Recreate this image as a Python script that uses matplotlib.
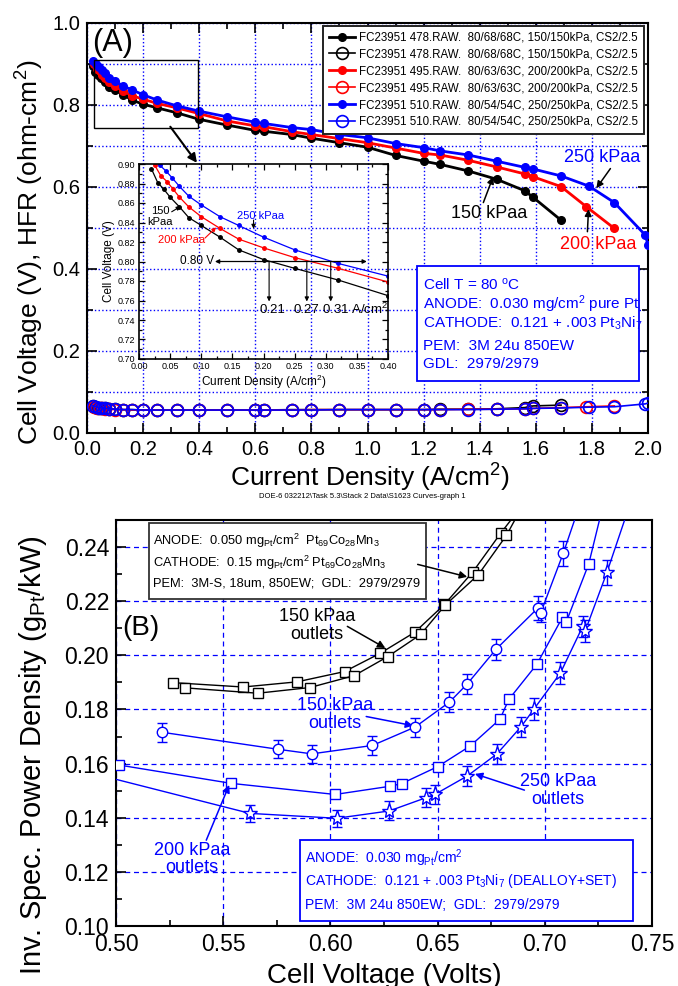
import matplotlib
matplotlib.use("Agg")
import matplotlib.pyplot as plt
from matplotlib.ticker import MultipleLocator, FormatStrFormatter
from matplotlib.patches import Rectangle

plt.rcParams['font.family'] = ['Liberation Sans', 'DejaVu Sans']
plt.rcParams['mathtext.fontset'] = 'custom'
plt.rcParams['mathtext.rm'] = 'Liberation Sans'
plt.rcParams['mathtext.it'] = 'Liberation Sans:italic'
plt.rcParams['mathtext.bf'] = 'Liberation Sans:bold'

BLUE = '#0000ff'
RED = '#ff0000'
BLACK = '#000000'

# ---------------- (A) polarization curves and HFR ----------------
x150 = [0.02, 0.03, 0.04, 0.05, 0.065, 0.08, 0.10, 0.13, 0.16, 0.20, 0.25, 0.32, 0.40, 0.50,
        0.60, 0.63, 0.73, 0.80, 0.90, 1.00, 1.10, 1.20, 1.26, 1.36, 1.46, 1.56, 1.59, 1.69]
v150 = [0.895, 0.881, 0.874, 0.866, 0.856, 0.845, 0.837, 0.825, 0.812, 0.802, 0.793, 0.781, 0.765, 0.751,
        0.738, 0.736, 0.728, 0.719, 0.708, 0.697, 0.677, 0.663, 0.655, 0.639, 0.619, 0.591, 0.575, 0.519]
h150 = [0.066, 0.064, 0.062, 0.061, 0.060, 0.059, 0.058, 0.057, 0.057, 0.056, 0.056, 0.056, 0.056, 0.056,
        0.056, 0.056, 0.057, 0.057, 0.057, 0.057, 0.057, 0.057, 0.058, 0.058, 0.059, 0.062, 0.066, 0.068]

x200 = [0.025, 0.035, 0.045, 0.055, 0.065, 0.08, 0.10, 0.13, 0.16, 0.20, 0.25, 0.32, 0.40, 0.50, 0.60,
        0.63, 0.73, 0.80, 0.90, 1.00, 1.10, 1.20, 1.26, 1.36, 1.46, 1.56, 1.59, 1.69, 1.78, 1.88]
v200 = [0.899, 0.888, 0.882, 0.874, 0.866, 0.856, 0.846, 0.834, 0.823, 0.814, 0.804, 0.793, 0.779, 0.761, 0.749,
        0.747, 0.735, 0.728, 0.718, 0.708, 0.695, 0.682, 0.678, 0.665, 0.649, 0.632, 0.625, 0.601, 0.552, 0.499]
h200 = [0.064, 0.062, 0.061, 0.060, 0.059, 0.058, 0.057, 0.057, 0.056, 0.056, 0.056, 0.056, 0.056, 0.056, 0.056,
        0.056, 0.056, 0.057, 0.057, 0.057, 0.057, 0.057, 0.057, 0.058, 0.058, 0.059, 0.060, 0.062, 0.064, 0.066]

x250 = [0.02, 0.033, 0.043, 0.053, 0.065, 0.08, 0.10, 0.13, 0.16, 0.20, 0.25, 0.32, 0.40, 0.50, 0.60, 0.63,
        0.73, 0.80, 0.90, 1.00, 1.10, 1.20, 1.26, 1.36, 1.46, 1.56, 1.59, 1.69, 1.79, 1.88, 1.99, 2.00]
v250 = [0.907, 0.899, 0.893, 0.886, 0.877, 0.867, 0.858, 0.846, 0.837, 0.825, 0.812, 0.798, 0.785, 0.771, 0.758, 0.755,
        0.745, 0.740, 0.728, 0.720, 0.706, 0.696, 0.688, 0.678, 0.663, 0.648, 0.644, 0.627, 0.602, 0.562, 0.483, 0.459]
h250 = [0.066, 0.064, 0.062, 0.061, 0.060, 0.059, 0.058, 0.057, 0.057, 0.056, 0.056, 0.056, 0.056, 0.056, 0.056, 0.056,
        0.056, 0.056, 0.057, 0.057, 0.057, 0.057, 0.057, 0.057, 0.058, 0.059, 0.060, 0.061, 0.063, 0.064, 0.071, 0.073]

labels_A = [
    "FC23951 478.RAW.  80/68/68C, 150/150kPa, CS2/2.5",
    "FC23951 495.RAW.  80/63/63C, 200/200kPa, CS2/2.5",
    "FC23951 510.RAW.  80/54/54C, 250/250kPa, CS2/2.5",
]

# ---------------- (B) inverse specific power density ----------------
# 150 kPaa outlets, Pt69Co28Mn3 (two runs)
pcm_a_x = [0.5267, 0.5593, 0.5844, 0.6066, 0.6231, 0.6393, 0.6532, 0.6665, 0.6795, 0.6940]
pcm_a_y = [0.1899, 0.1883, 0.1902, 0.1940, 0.2007, 0.2085, 0.2188, 0.2309, 0.2452, 0.2600]
pcm_b_x = [0.5320, 0.5661, 0.5904, 0.6111, 0.6267, 0.6421, 0.6535, 0.6690, 0.6821, 0.6929]
pcm_b_y = [0.1880, 0.1860, 0.1881, 0.1925, 0.1995, 0.2077, 0.2185, 0.2298, 0.2443, 0.2600]

# Pt3Ni7, 150 kPaa outlets
ni150_x = [0.5213, 0.5755, 0.5913, 0.6196, 0.6395, 0.6555, 0.6638, 0.6772, 0.6967, 0.6981, 0.7086, 0.7182]
ni150_y = [0.1716, 0.1653, 0.1636, 0.1667, 0.1735, 0.1827, 0.1894, 0.2022, 0.2174, 0.2157, 0.2377, 0.2600]
ni150_e = [0.0035, 0.0034, 0.0034, 0.0035, 0.0035, 0.0036, 0.0038, 0.0040, 0.0045, 0.0035, 0.0046, 0.0]

# Pt3Ni7, 200 kPaa outlets
ni200_x = [0.5012, 0.5537, 0.6022, 0.6276, 0.6332, 0.6501, 0.6652, 0.6791, 0.6832, 0.6963, 0.7082, 0.7100, 0.7205, 0.7286]
ni200_y = [0.1595, 0.1527, 0.1486, 0.1516, 0.1526, 0.1589, 0.1665, 0.1764, 0.1837, 0.1967, 0.2140, 0.2123, 0.2338, 0.2600]

# Pt3Ni7, 250 kPaa outlets
ni250_x = [0.49, 0.5625, 0.6029, 0.6274, 0.6446, 0.6487, 0.6638, 0.6777, 0.6890, 0.6949, 0.7073, 0.7177, 0.7189, 0.7290, 0.7415]
ni250_y = [0.1562, 0.1416, 0.1398, 0.1425, 0.1474, 0.1486, 0.1554, 0.1636, 0.1737, 0.1801, 0.1935, 0.2107, 0.2091, 0.2307, 0.2600]
ni250_e = [0.0, 0.0030, 0.0032, 0.0035, 0.0035, 0.0035, 0.0036, 0.0036, 0.0037, 0.0040, 0.0040, 0.0040, 0.0040, 0.0046, 0.0]

# ---------------- figure layout (pixel boxes) ----------------
W, H = 678, 986
fig = plt.figure(figsize=(W / 100, H / 100), dpi=100)


def box(x0, y0, x1, y1):
    return [x0 / W, 1 - y1 / H, (x1 - x0) / W, (y1 - y0) / H]


axA = fig.add_axes(box(87, 23, 648, 433))
axB = fig.add_axes(box(116, 520, 652, 926))
ins = fig.add_axes(box(139, 164, 388, 359))
ins.set_facecolor('none')

# ---------------- panel A ----------------
series = [(x150, v150, h150, BLACK),
          (x200, v200, h200, RED),
          (x250, v250, h250, BLUE)]
handles = []
for (xs, vs, hs, c) in series:
    l1, = axA.plot(xs, vs, '-o', color=c, lw=2.0, ms=5.5, zorder=3)
    l2, = axA.plot(xs, hs, '-o', color=c, lw=1.2, ms=8.5, mfc='none', mec=c, mew=1.2, zorder=3)
    handles += [l1, l2]

leg_labels = [labels_A[0], labels_A[0], labels_A[1], labels_A[1], labels_A[2], labels_A[2]]
leg = axA.legend(handles, leg_labels, loc='upper right', bbox_to_anchor=(0.992, 0.993),
                 fontsize=8.3, frameon=True, fancybox=False, framealpha=1, edgecolor='#222222',
                 handlelength=2.3, handletextpad=0.3, labelspacing=0.42, borderpad=0.5,
                 borderaxespad=0.0)
leg.get_frame().set_linewidth(1.4)
leg.set_zorder(6)

axA.set_xlim(0, 2.0)
axA.set_ylim(0, 1.0)
axA.xaxis.set_major_locator(MultipleLocator(0.2))
axA.xaxis.set_minor_locator(MultipleLocator(0.1))
axA.yaxis.set_major_locator(MultipleLocator(0.2))
axA.yaxis.set_minor_locator(MultipleLocator(0.1))
axA.xaxis.set_major_formatter(FormatStrFormatter('%.1f'))
axA.yaxis.set_major_formatter(FormatStrFormatter('%.1f'))
axA.tick_params(which='both', direction='in', top=True, right=True, width=1.2)
axA.tick_params(which='major', length=7, labelsize=14.5, pad=5)
axA.tick_params(which='minor', length=4)
axA.set_axisbelow(True)
axA.grid(True, which='major', axis='x', color=BLUE, ls=':', lw=1.0)
axA.grid(True, which='both', axis='y', color=BLUE, ls=':', lw=1.0)
for s in axA.spines.values():
    s.set_linewidth(1.5)

axA.text(0.018, 0.988, '(A)', fontsize=22, ha='left', va='top')

# kPaa labels on the main curves
axA.text(1.835, 0.672, '250 kPaa', color=BLUE, fontsize=13, ha='center', va='center')
axA.annotate('', xy=(1.816, 0.597), xytext=(1.866, 0.645),
             arrowprops=dict(arrowstyle='-|>', color=BLACK, lw=1.1, mutation_scale=10, shrinkA=0, shrinkB=0))
axA.text(1.824, 0.459, '200 kPaa', color=RED, fontsize=13, ha='center', va='center')
axA.annotate('', xy=(1.788, 0.546), xytext=(1.784, 0.491),
             arrowprops=dict(arrowstyle='-|>', color=BLACK, lw=1.1, mutation_scale=10, shrinkA=0, shrinkB=0))
axA.text(1.433, 0.536, '150 kPaa', color=BLACK, fontsize=13, ha='center', va='center')
axA.annotate('', xy=(1.448, 0.625), xytext=(1.413, 0.562),
             arrowprops=dict(arrowstyle='-|>', color=BLACK, lw=1.1, mutation_scale=10, shrinkA=0, shrinkB=0))

# zoom window and pointer to the inset
axA.add_patch(Rectangle((0.026, 0.745), 0.368, 0.164, fill=False, ec=BLACK, lw=1.0, zorder=4))
axA.annotate('', xy=(0.392, 0.659), xytext=(0.297, 0.747),
             arrowprops=dict(arrowstyle='-|>', color=BLACK, lw=1.5, mutation_scale=13, shrinkA=0, shrinkB=0))

# cell / MEA description box
axA.add_patch(Rectangle((1.175, 0.127), 0.794, 0.281, fc='white', ec=BLUE, lw=1.3, zorder=5))
info_A = [
    (0.361, r'Cell T = 80 $^{\mathrm{o}}$C'),
    (0.313, r'ANODE:  0.030 mg/cm$^{\mathrm{2}}$ pure Pt'),
    (0.268, r'CATHODE:  0.121 + .003 Pt$_{\mathrm{3}}$Ni$_{\mathrm{7}}$'),
    (0.211, 'PEM:  3M 24u 850EW'),
    (0.169, 'GDL:  2979/2979'),
]
for yy, tx in info_A:
    axA.text(1.198, yy, tx, color=BLUE, fontsize=11, ha='left', va='center', zorder=6)

# ---------------- inset ----------------
for (xs, vs, hs, c) in series:
    ins.plot(xs, vs, '-o', color=c, lw=0.9, ms=2.5)
ins.set_xlim(0, 0.40)
ins.set_ylim(0.70, 0.90)
ins.xaxis.set_major_locator(MultipleLocator(0.05))
ins.xaxis.set_minor_locator(MultipleLocator(0.025))
ins.yaxis.set_major_locator(MultipleLocator(0.02))
ins.yaxis.set_minor_locator(MultipleLocator(0.01))
ins.xaxis.set_major_formatter(FormatStrFormatter('%.2f'))
ins.yaxis.set_major_formatter(FormatStrFormatter('%.2f'))
ins.tick_params(which='both', direction='in', top=True, right=True, width=0.9)
ins.tick_params(which='major', length=4, labelsize=6.5, pad=2.5)
ins.tick_params(which='minor', length=2)
for s in ins.spines.values():
    s.set_linewidth(1.2)
ins.set_xlabel(r'Current Density (A/cm$^{\mathrm{2}}$)', fontsize=8.5, labelpad=1)
ins.set_ylabel('Cell Voltage (V)', fontsize=8.5, labelpad=2)

arr_s = dict(arrowstyle='-|>', color=BLACK, lw=0.8, mutation_scale=6, shrinkA=0, shrinkB=0)
ins.text(0.1945, 0.847, '250 kPaa', color=BLUE, fontsize=8, ha='center', va='center')
ins.annotate('', xy=(0.184, 0.8335), xytext=(0.184, 0.8425), arrowprops=arr_s)
ins.text(0.0686, 0.8217, '200 kPaa', color=RED, fontsize=8, ha='center', va='center')
ins.annotate('', xy=(0.124, 0.835), xytext=(0.106, 0.824), arrowprops=dict(arr_s, color=RED))
ins.text(0.034, 0.846, '150\nkPaa', color=BLACK, fontsize=8, ha='center', va='center', linespacing=1.1)
ins.annotate('', xy=(0.067, 0.8566), xytext=(0.0525, 0.851), arrowprops=arr_s)
ins.text(0.120, 0.801, '0.80 V', color=BLACK, fontsize=8.5, ha='right', va='center')
ins.annotate('', xy=(0.122, 0.800), xytext=(0.366, 0.800),
             arrowprops=dict(arrowstyle='<|-|>', color=BLACK, lw=0.9, mutation_scale=6, shrinkA=0, shrinkB=0))
cross_j = [0.21, 0.27, 0.31]
cross_x = [0.209, 0.2696, 0.308]
for xx in cross_x:
    ins.annotate('', xy=(xx, 0.759), xytext=(xx, 0.800), arrowprops=arr_s)
ins.text(0.215, 0.7506, '%.2f' % cross_j[0], fontsize=9.5, ha='center', va='center')
ins.text(0.2685, 0.7506, '%.2f' % cross_j[1], fontsize=9.5, ha='center', va='center')
ins.text(0.294, 0.7506, '%.2f A/cm$^{\\mathrm{2}}$' % cross_j[2], fontsize=9.5, ha='left', va='center',
         clip_on=False)

# ---------------- panel B ----------------
sq = dict(marker='s', ms=7.5, mfc='white', mew=1.0, lw=1.0)
axB.plot(pcm_a_x, pcm_a_y, color=BLACK, mec=BLACK, zorder=3, **sq)
axB.plot(pcm_b_x, pcm_b_y, color=BLACK, mec=BLACK, zorder=3, **sq)
axB.plot(ni200_x, ni200_y, color=BLUE, mec=BLUE, zorder=3, **sq)
axB.errorbar(ni150_x, ni150_y, yerr=ni150_e, fmt='-o', color=BLUE, mfc='white', mec=BLUE, ms=7.5, mew=1.0,
             lw=1.0, elinewidth=1.0, capsize=3.5, capthick=1.0, zorder=3)
axB.errorbar(ni250_x, ni250_y, yerr=ni250_e, fmt='-*', color=BLUE, mfc='white', mec=BLUE, ms=11, mew=1.0,
             lw=1.0, elinewidth=1.0, capsize=3.5, capthick=1.0, zorder=3)

axB.set_xlim(0.50, 0.75)
axB.set_ylim(0.10, 0.25)
axB.xaxis.set_major_locator(MultipleLocator(0.05))
axB.xaxis.set_minor_locator(MultipleLocator(0.025))
axB.yaxis.set_major_locator(MultipleLocator(0.02))
axB.yaxis.set_minor_locator(MultipleLocator(0.01))
axB.xaxis.set_major_formatter(FormatStrFormatter('%.2f'))
axB.yaxis.set_major_formatter(FormatStrFormatter('%.2f'))
axB.tick_params(which='both', direction='in', width=1.2)
axB.tick_params(which='major', length=7, labelsize=16.5, pad=5)
axB.tick_params(which='minor', length=4)
axB.set_axisbelow(True)
axB.grid(True, which='major', color=BLUE, ls=(0, (4, 3)), lw=0.9)
for s in axB.spines.values():
    s.set_linewidth(1.5)

axB.text(0.5028, 0.2101, '(B)', fontsize=20, ha='left', va='center')

axB.add_patch(Rectangle((0.5155, 0.2209), 0.1291, 0.0279, fc='white', ec='#333333', lw=1.3, zorder=2.5))
info_B1 = [
    (0.2422, r'ANODE:  0.050 mg$_{\mathrm{Pt}}$/cm$^{\mathrm{2}}$  Pt$_{\mathrm{69}}$Co$_{\mathrm{28}}$Mn$_{\mathrm{3}}$'),
    (0.2340, r'CATHODE:  0.15 mg$_{\mathrm{Pt}}$/cm$^{\mathrm{2}}$ Pt$_{\mathrm{69}}$Co$_{\mathrm{28}}$Mn$_{\mathrm{3}}$'),
    (0.2264, 'PEM:  3M-S, 18um, 850EW;  GDL:  2979/2979'),
]
for yy, tx in info_B1:
    axB.text(0.5172, yy, tx, fontsize=9.3, color=BLACK, ha='left', va='center', zorder=4)

axB.add_patch(Rectangle((0.5860, 0.1017), 0.1551, 0.0300, fc='white', ec=BLUE, lw=1.3, zorder=2.5))
info_B2 = [
    (0.1249, r'ANODE:  0.030 mg$_{\mathrm{Pt}}$/cm$^{\mathrm{2}}$'),
    (0.1165, r'CATHODE:  0.121 + .003 Pt$_{\mathrm{3}}$Ni$_{\mathrm{7}}$ (DEALLOY+SET)'),
    (0.1079, 'PEM:  3M 24u 850EW;  GDL:  2979/2979'),
]
for yy, tx in info_B2:
    axB.text(0.5883, yy, tx, fontsize=10, color=BLUE, ha='left', va='center', zorder=4)

arr_b = dict(arrowstyle='-|>', lw=1.1, mutation_scale=11, shrinkA=0, shrinkB=0)
axB.text(0.5936, 0.2110, '150 kPaa\noutlets', fontsize=13, color=BLACK, ha='center', va='center', linespacing=1.05)
axB.annotate('', xy=(0.6256, 0.2027), xytext=(0.6079, 0.2107), arrowprops=dict(arr_b, color=BLACK))
axB.annotate('', xy=(0.6638, 0.2290), xytext=(0.6407, 0.2336), arrowprops=dict(arr_b, color=BLACK))
axB.text(0.6022, 0.1781, '150 kPaa\noutlets', fontsize=13, color=BLUE, ha='center', va='center', linespacing=1.05)
axB.annotate('', xy=(0.6386, 0.1740), xytext=(0.6167, 0.1774), arrowprops=dict(arr_b, color=BLUE))
axB.text(0.5355, 0.1247, '200 kPaa\noutlets', fontsize=13, color=BLUE, ha='center', va='center', linespacing=1.05)
axB.annotate('', xy=(0.5528, 0.1521), xytext=(0.5421, 0.1317), arrowprops=dict(arr_b, color=BLUE))
axB.text(0.7061, 0.1500, '250 kPaa\noutlets', fontsize=13, color=BLUE, ha='center', va='center', linespacing=1.05)
axB.annotate('', xy=(0.6674, 0.1562), xytext=(0.6905, 0.1502), arrowprops=dict(arr_b, color=BLUE))

# ---------------- axis titles placed on the figure ----------------
fig.text(30 / W, 1 - 252 / H, r'Cell Voltage (V), HFR (ohm-cm$^{\mathrm{2}}$)', rotation=90,
         fontsize=19, ha='center', va='center')
fig.text(370 / W, 1 - 478 / H, r'Current Density (A/cm$^{\mathrm{2}}$)', fontsize=19, ha='center', va='center')
fig.text(362 / W, 1 - 497 / H, r'DOE-6 032212\Task 5.3\Stack 2 Data\S1623 Curves-graph 1',
         fontsize=5.5, ha='center', va='center')
fig.text(33 / W, 1 - 755 / H, r'Inv. Spec. Power Density (g$_{\mathrm{Pt}}$/kW)', rotation=90,
         fontsize=21, ha='center', va='center')
fig.text(384 / W, 1 - 983 / H, 'Cell Voltage (Volts)', fontsize=20, ha='center', va='baseline')

fig.savefig('out.png', dpi=100)
